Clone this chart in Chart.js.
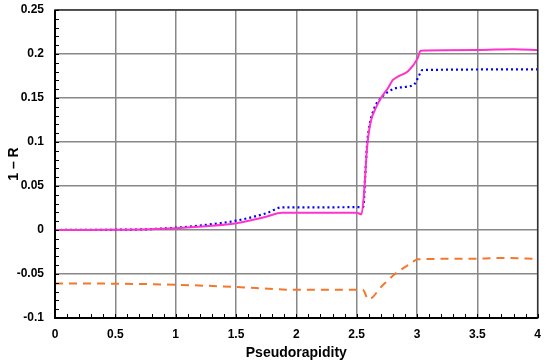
<!DOCTYPE html>
<html>
<head>
<meta charset="utf-8">
<script src="https://cdn.jsdelivr.net/npm/chart.js@4"></script>
<style>
  html, body { margin: 0; padding: 0; background: #fff; }
  #wrap { width: 550px; height: 362px; }
</style>
</head>
<body>
<div id="wrap"><canvas id="grafico"></canvas></div>
<script>
// valores
const etaMagenta = [0, 0.25, 0.5, 0.78, 1.0, 1.25, 1.5, 1.75, 1.88, 2.2, 2.5, 2.54, 2.565, 2.584, 2.6, 2.62, 2.66, 2.70, 2.763, 2.80, 2.845, 2.93, 3.005, 3.03, 3.5, 3.8, 4];
const rMagenta   = [0, 0, 0.0003, 0.0008, 0.0019, 0.0042, 0.0076, 0.0151, 0.0197, 0.0197, 0.0197, 0.0178, 0.049, 0.09, 0.11, 0.125, 0.139, 0.1497, 0.162, 0.1705, 0.1745, 0.181, 0.195, 0.2038, 0.2045, 0.2055, 0.2045];

const etaAzul = [0, 0.5, 0.78, 1.0, 1.25, 1.5, 1.75, 1.883, 2.2, 2.555, 2.57, 2.585, 2.598, 2.64, 2.70, 2.76, 2.82, 2.92, 2.98, 3.005, 3.046, 4];
const rAzul   = [0, 0.0003, 0.0009, 0.0026, 0.0058, 0.0106, 0.019, 0.0258, 0.0258, 0.0262, 0.06, 0.095, 0.112, 0.1364, 0.1497, 0.157, 0.161, 0.163, 0.166, 0.172, 0.1818, 0.1825];

const etaLaranja = [0, 0.5, 1.0, 1.5, 1.86, 2.0, 2.55, 2.598, 2.71, 2.818, 2.928, 3.01, 3.5, 3.7, 4];
const rLaranja   = [-0.0607, -0.061, -0.0622, -0.0648, -0.0674, -0.068, -0.068, -0.0788, -0.0636, -0.05, -0.0398, -0.0333, -0.0326, -0.0318, -0.033];

const xTicks = [0, 0.5, 1, 1.5, 2, 2.5, 3, 3.5, 4];
const yTicks = [-0.1, -0.05, 0, 0.05, 0.1, 0.15, 0.2, 0.25];

const pontos = (xs, ys) => xs.map((x, i) => ({ x: x, y: ys[i] }));
const formatar = (v) => String(parseFloat(Number(v).toFixed(2)));

// marcas menores para dentro (a cada 0.1 em x e 0.01 em y)
const marcasMenores = {
  id: 'marcasMenores',
  afterDatasetsDraw(chart) {
    const ctx = chart.ctx;
    const xs = chart.scales.x, ys = chart.scales.y;
    const area = chart.chartArea;
    ctx.save();
    // moldura
    ctx.strokeStyle = '#333';
    ctx.lineWidth = 1.5;
    ctx.strokeRect(area.left, area.top, area.right - area.left, area.bottom - area.top);
    ctx.strokeStyle = '#000';
    ctx.lineWidth = 2;
    ctx.beginPath();
    ctx.moveTo(area.left, area.top);
    ctx.lineTo(area.left, area.bottom);
    ctx.lineTo(area.right, area.bottom);
    ctx.stroke();
    ctx.lineWidth = 1;
    ctx.beginPath();
    for (let i = 0; i <= 40; i++) {
      const px = Math.round(xs.getPixelForValue(i / 10)) + 0.5;
      ctx.moveTo(px, area.bottom);
      ctx.lineTo(px, area.bottom - 4);
    }
    for (let j = -10; j <= 25; j++) {
      const py = Math.round(ys.getPixelForValue(j / 100)) + 0.5;
      ctx.moveTo(area.left, py);
      ctx.lineTo(area.left + 4, py);
    }
    ctx.stroke();
    ctx.restore();
  }
};

const fonteTick = { family: 'Liberation Sans, Arial, sans-serif', size: 12, weight: 'bold' };
const fonteTitulo = { family: 'Liberation Sans, Arial, sans-serif', size: 14, weight: 'bold' };

new Chart(document.querySelector('#grafico').getContext('2d'), {
  type: 'line',
  data: {
    datasets: [
      {
        label: 'magenta',
        data: pontos(etaMagenta, rMagenta),
        borderColor: '#ff33cc',
        borderWidth: 2,
        pointRadius: 0,
        cubicInterpolationMode: 'monotone'
      },
      {
        label: 'azul',
        data: pontos(etaAzul, rAzul),
        borderColor: '#0000ff',
        borderWidth: 2.2,
        borderDash: [2, 3],
        pointRadius: 0,
        cubicInterpolationMode: 'monotone'
      },
      {
        label: 'laranja',
        data: pontos(etaLaranja, rLaranja),
        borderColor: '#f5782a',
        borderWidth: 2,
        borderDash: [8, 6],
        pointRadius: 0,
        cubicInterpolationMode: 'monotone'
      }
    ]
  },
  options: {
    responsive: true,
    maintainAspectRatio: false,
    animation: false,
    layout: { padding: { top: 10, right: 2, left: 6, bottom: 0 } },
    plugins: { legend: { display: false }, tooltip: { enabled: false } },
    scales: {
      x: {
        type: 'linear',
        min: 0, max: 4,
        afterBuildTicks: (s) => { s.ticks = xTicks.map(v => ({ value: v })); },
        afterFit: (s) => { s.height = 44; },
        grid: { color: '#888', lineWidth: 1.5, drawTicks: false },
        border: { display: false },
        ticks: { color: '#000', font: fonteTick, padding: 9, maxRotation: 0, callback: formatar },
        title: { display: true, text: 'Pseudorapidity', color: '#000', font: fonteTitulo, padding: { top: 0, bottom: 0 } }
      },
      y: {
        type: 'linear',
        min: -0.1, max: 0.25,
        afterBuildTicks: (s) => { s.ticks = yTicks.map(v => ({ value: v })); },
        afterFit: (s) => { s.width = 49; s.paddingTop = 0; s.paddingBottom = 0; },
        grid: { color: '#888', lineWidth: 1.5, drawTicks: false },
        border: { display: false },
        ticks: { color: '#000', font: fonteTick, padding: 11, callback: formatar },
        title: { display: true, text: '1 – R', color: '#000', font: fonteTitulo, padding: { top: 0, bottom: 0 } }
      }
    }
  },
  plugins: [marcasMenores]
});
</script>
</body>
</html>
